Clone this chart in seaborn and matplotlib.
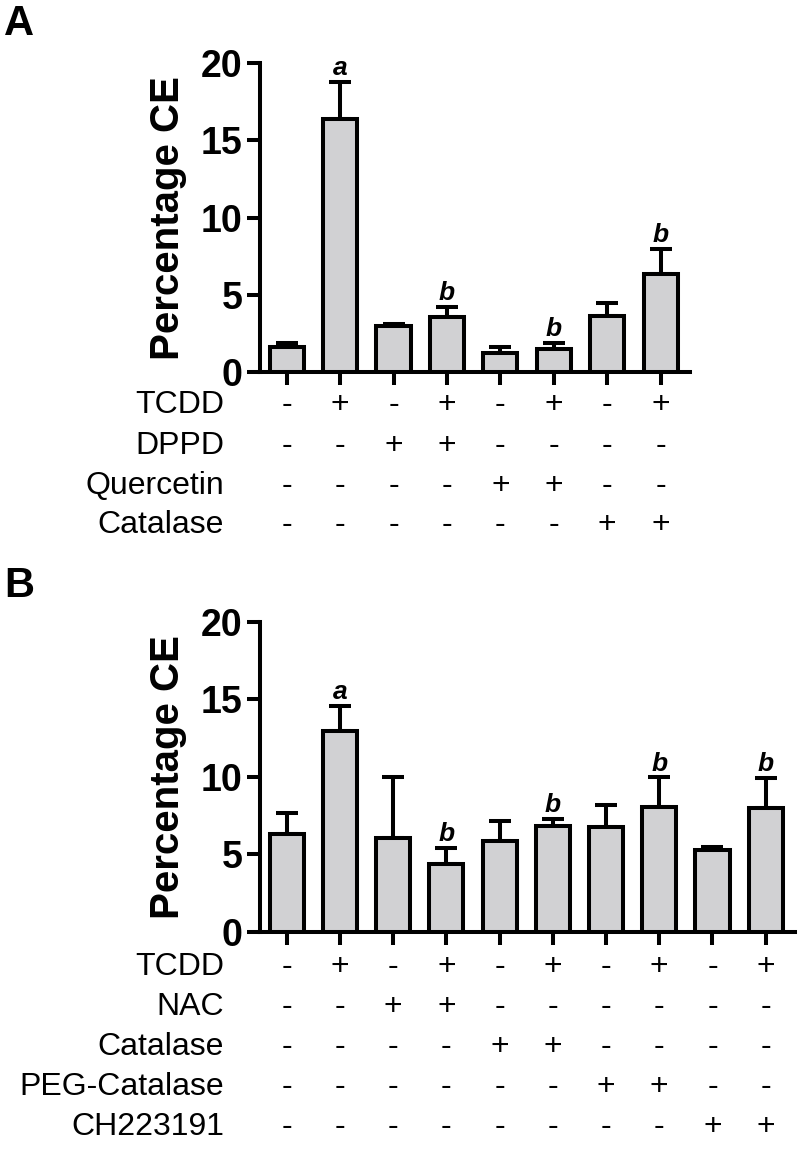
import numpy as np
import pandas as pd
import matplotlib
matplotlib.use("Agg")
import matplotlib.pyplot as plt
import matplotlib.transforms as mtransforms
import seaborn as sns

# ---------------- data ----------------
groups_A = ["A1", "A2", "A3", "A4", "A5", "A6", "A7", "A8"]
values_A = [1.6, 16.4, 2.95, 3.55, 1.2, 1.5, 3.6, 6.35]
errors_A = [0.25, 2.4, 0.15, 0.65, 0.45, 0.4, 0.9, 1.6]
letters_A = ["", "a", "", "b", "", "b", "", "b"]
rows_A = ["TCDD", "DPPD", "Quercetin", "Catalase"]
table_A = [
    ["-", "+", "-", "+", "-", "+", "-", "+"],
    ["-", "-", "+", "+", "-", "-", "-", "-"],
    ["-", "-", "-", "-", "+", "+", "-", "-"],
    ["-", "-", "-", "-", "-", "-", "+", "+"],
]

groups_B = ["B1", "B2", "B3", "B4", "B5", "B6", "B7", "B8", "B9", "B10"]
values_B = [6.3, 12.95, 6.05, 4.4, 5.85, 6.85, 6.75, 8.05, 5.25, 8.0]
errors_B = [1.35, 1.6, 3.95, 1.0, 1.3, 0.45, 1.4, 1.9, 0.2, 1.9]
letters_B = ["", "a", "", "b", "", "b", "", "b", "", "b"]
rows_B = ["TCDD", "NAC", "Catalase", "PEG-Catalase", "CH223191"]
table_B = [
    ["-", "+", "-", "+", "-", "+", "-", "+", "-", "+"],
    ["-", "-", "+", "+", "-", "-", "-", "-", "-", "-"],
    ["-", "-", "-", "-", "+", "+", "-", "-", "-", "-"],
    ["-", "-", "-", "-", "-", "-", "+", "+", "-", "-"],
    ["-", "-", "-", "-", "-", "-", "-", "-", "+", "+"],
]

y_ticks = [0, 5, 10, 15, 20]
y_label = "Percentage CE"

# ---------------- style ----------------
sns.set_style("ticks")
plt.rcParams["font.family"] = ["Liberation Sans", "DejaVu Sans"]
for k in ["text.color", "axes.labelcolor", "xtick.color", "ytick.color", "axes.edgecolor"]:
    plt.rcParams[k] = "black"

W, H = 800, 1149
fig = plt.figure(figsize=(W / 100, H / 100), dpi=100)

LW = 2.9
BAR_COLOR = "#d1d1d3"


def fy(px):
    return 1 - px / H


def panel(rect, groups, values, errors, letters, rows, table, row_px, letter, letter_px):
    ax = fig.add_axes(rect)
    n = len(groups)
    df = pd.DataFrame({"group": groups, "value": values})
    sns.barplot(data=df, x="group", y="value", color=BAR_COLOR, saturation=1,
                edgecolor="black", linewidth=LW, width=0.64, errorbar=None, ax=ax, zorder=3)
    xs = np.arange(n)
    ax.errorbar(xs, values, yerr=[np.zeros(n), errors], fmt="none", ecolor="black",
                elinewidth=LW, capsize=8, capthick=LW, zorder=2)
    ax.set_xlim(-0.5, n - 0.45)
    ax.set_ylim(0, 20)
    ax.set_yticks(y_ticks)
    ax.set_xticks(xs)
    ax.set_xticklabels([])
    ax.set_xlabel("")
    ax.set_ylabel(y_label, fontsize=29, fontweight="bold", labelpad=10)
    ax.tick_params(axis="both", direction="out", length=9.5, width=LW, color="black")
    ax.tick_params(axis="y", labelsize=27, pad=3, labelcolor="black")
    for t in ax.get_yticklabels():
        t.set_fontweight("bold")
    for s in ["top", "right"]:
        ax.spines[s].set_visible(False)
    for s in ["left", "bottom"]:
        ax.spines[s].set_linewidth(LW)
        ax.spines[s].set_color("black")

    # significance letters
    for x, v, e, lt in zip(xs, values, errors, letters):
        if lt:
            ax.annotate(lt, xy=(x, v + e), xytext=(0, 5), textcoords="offset points",
                        ha="center", va="baseline", fontsize=19, fontweight="bold",
                        fontstyle="italic", color="black", annotation_clip=False)

    # treatment table
    trans = mtransforms.blended_transform_factory(ax.transData, fig.transFigure)
    for r, (name, marks) in enumerate(zip(rows, table)):
        yy = fy(row_px[r])
        fig.text(224 / W, yy, name, ha="right", va="center", fontsize=23, color="black")
        for x, m in zip(xs, marks):
            ax.text(x, yy, m, transform=trans, ha="center", va="center", fontsize=23,
                    color="black", clip_on=False)

    fig.text(4 / W, fy(letter_px), letter, ha="left", va="top", fontsize=30,
             fontweight="bold", color="black")
    return ax


panel([260 / W, fy(372), 430 / W, (372 - 63.3) / H], groups_A, values_A, errors_A, letters_A,
      rows_A, table_A, [405, 446, 486, 525], "A", 4)
panel([260 / W, fy(931.7), 535 / W, (931.7 - 621.7) / H], groups_B, values_B, errors_B, letters_B,
      rows_B, table_B, [967, 1007, 1047, 1087, 1127], "B", 566)

fig.savefig("out.png", dpi=100)
